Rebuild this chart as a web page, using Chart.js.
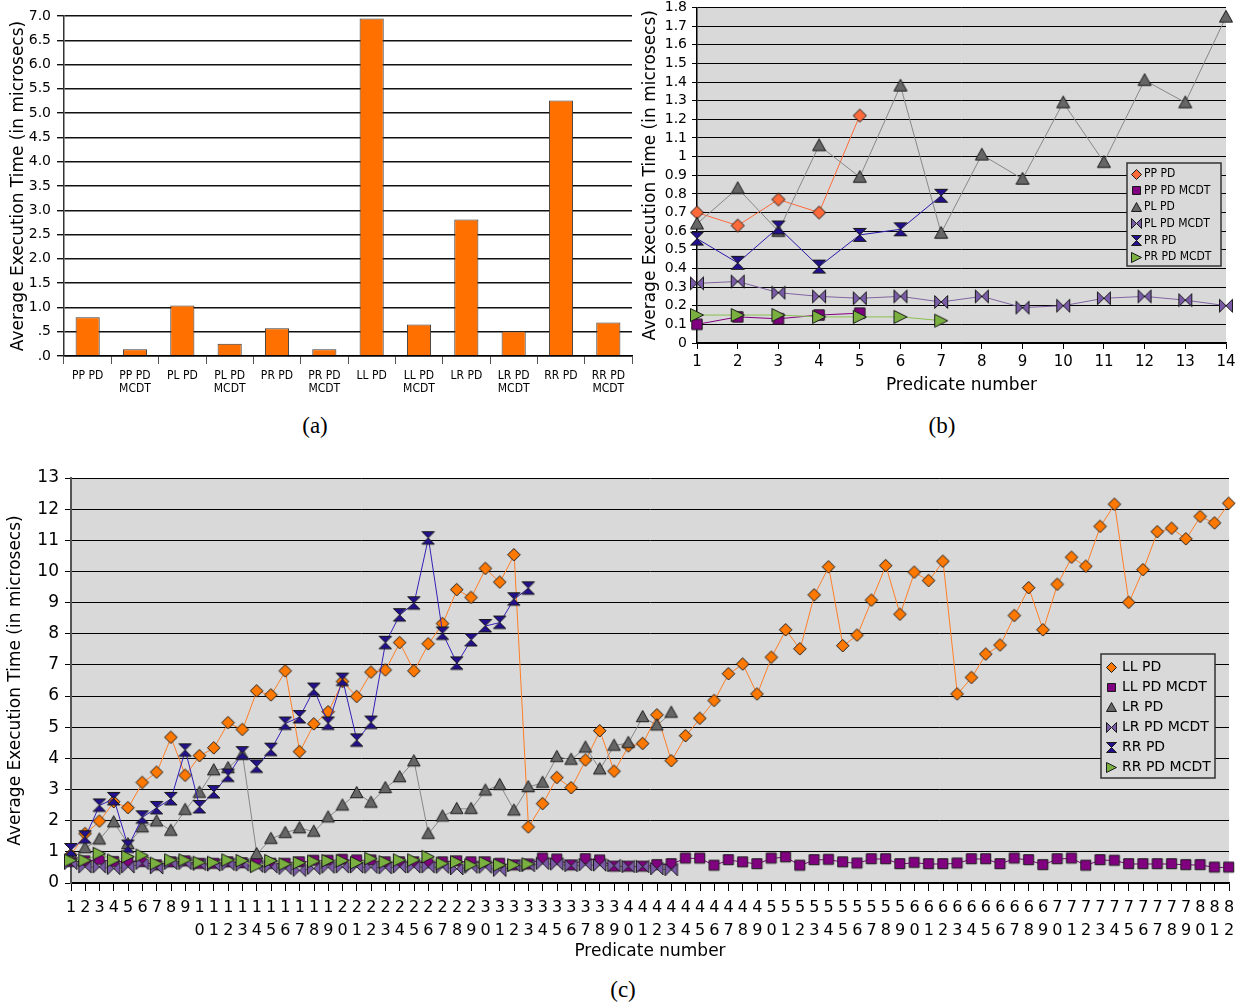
<!DOCTYPE html>
<html>
<head>
<meta charset="utf-8">
<script src="https://cdn.jsdelivr.net/npm/chart.js@4.4.0/dist/chart.umd.min.js"></script>
<style>
  body { margin: 0; background: #fff; }
  #wrap { position: relative; width: 1247px; height: 1008px; overflow: hidden; }
  canvas { position: absolute; }
  .cap { position: absolute; font-family: 'Liberation Serif', serif; font-size: 23px; line-height: 1; color: #000; transform: translateX(-50%); }
</style>
</head>
<body>
<div id="wrap">
  <canvas id="chartA" width="640" height="400" style="left:0;top:0"></canvas>
  <canvas id="chartB" width="617" height="400" style="left:630px;top:0"></canvas>
  <canvas id="chartC" width="1247" height="526" style="left:0;top:440px"></canvas>
  <div class="cap" style="left:315px;top:414px">(a)</div>
  <div class="cap" style="left:942px;top:414px">(b)</div>
  <div class="cap" style="left:623px;top:978px">(c)</div>
</div>
<script>
// ---- data: (a) average time per predicate combination
const catA = [['PP PD'], ['PP PD', 'MCDT'], ['PL PD'], ['PL PD', 'MCDT'], ['PR PD'], ['PR PD', 'MCDT'],
              ['LL PD'], ['LL PD', 'MCDT'], ['LR PD'], ['LR PD', 'MCDT'], ['RR PD'], ['RR PD', 'MCDT']];
const avgA = [0.80, 0.14, 1.04, 0.25, 0.57, 0.14, 6.95, 0.65, 2.81, 0.51, 5.26, 0.69];
const yTicksA = ['.0', '.5', '1.0', '1.5', '2.0', '2.5', '3.0', '3.5', '4.0', '4.5', '5.0', '5.5', '6.0', '6.5', '7.0'];

// ---- data: (b) point / line predicates
const predB = ['1', '2', '3', '4', '5', '6', '7', '8', '9', '10', '11', '12', '13', '14'];
const yTicksB = ['0', '0.1', '0.2', '0.3', '0.4', '0.5', '0.6', '0.7', '0.8', '0.9', '1', '1.1', '1.2', '1.3', '1.4', '1.5', '1.6', '1.7', '1.8'];
const ppPD = [0.70, 0.63, 0.77, 0.70, 1.22];
const ppPDMcdt = [0.10, 0.14, 0.13, 0.15, 0.16];
const plPD = [0.64, 0.83, 0.60, 1.06, 0.89, 1.38, 0.59, 1.01, 0.88, 1.29, 0.97, 1.41, 1.29, 1.75];
const plPDMcdt = [0.32, 0.33, 0.27, 0.25, 0.24, 0.25, 0.22, 0.25, 0.19, 0.20, 0.24, 0.25, 0.23, 0.20];
const prPD = [0.56, 0.43, 0.62, 0.41, 0.58, 0.61, 0.79];
const prPDMcdt = [0.15, 0.15, 0.15, 0.14, 0.14, 0.14, 0.12];

// ---- data: (c) line / region predicates
const predC = Array.from({ length: 82 }, (_, i) => i + 1);
const llPD = [0.90, 1.58, 1.98, 2.60, 2.41, 3.22, 3.55, 4.67, 3.45, 4.08,
              4.33, 5.14, 4.92, 6.16, 6.03, 6.80, 4.21, 5.10, 5.49, 6.46,
              5.98, 6.76, 6.83, 7.71, 6.80, 7.67, 8.32, 9.41, 9.16, 10.09,
              9.65, 10.53, 1.79, 2.54, 3.38, 3.05, 3.94, 4.88, 3.58, 4.39,
              4.47, 5.39, 3.92, 4.72, 5.28, 5.85, 6.71, 7.02, 6.06, 7.24,
              8.12, 7.51, 9.24, 10.14, 7.61, 7.95, 9.07, 10.18, 8.62, 9.97,
              9.70, 10.32, 6.06, 6.59, 7.34, 7.63, 8.58, 9.47, 8.12, 9.58,
              10.45, 10.16, 11.44, 12.15, 9.00, 10.05, 11.27, 11.38, 11.04, 11.76,
              11.55, 12.18];
const llPDMcdt = [0.68, 0.70, 0.75, 0.68, 0.70, 0.68, 0.57, 0.67, 0.70, 0.62,
                  0.62, 0.67, 0.64, 0.64, 0.62, 0.62, 0.67, 0.72, 0.72, 0.75,
                  0.73, 0.73, 0.67, 0.67, 0.67, 0.64, 0.67, 0.70, 0.67, 0.67,
                  0.62, 0.57, 0.60, 0.79, 0.76, 0.57, 0.77, 0.73, 0.53, 0.53,
                  0.53, 0.58, 0.61, 0.79, 0.79, 0.56, 0.74, 0.67, 0.61, 0.79,
                  0.83, 0.56, 0.74, 0.75, 0.67, 0.63, 0.77, 0.77, 0.61, 0.65,
                  0.61, 0.61, 0.63, 0.77, 0.77, 0.61, 0.79, 0.74, 0.58, 0.77,
                  0.79, 0.56, 0.74, 0.72, 0.61, 0.61, 0.61, 0.61, 0.58, 0.58,
                  0.50, 0.50];
const lrPD = [0.75, 1.12, 1.40, 1.95, 1.25, 1.79, 1.98, 1.68, 2.35, 2.90,
              3.62, 3.69, 4.12, 0.93, 1.42, 1.61, 1.76, 1.65, 2.11, 2.49,
              2.89, 2.58, 3.05, 3.40, 3.91, 1.58, 2.14, 2.38, 2.38, 2.97,
              3.15, 2.33, 3.08, 3.22, 4.05, 3.96, 4.35, 3.65, 4.41, 4.50,
              5.33, 5.06, 5.47];
const lrPDMcdt = [0.62, 0.51, 0.51, 0.46, 0.51, 0.62, 0.48, 0.62, 0.62, 0.59,
                  0.57, 0.59, 0.57, 0.53, 0.51, 0.46, 0.40, 0.46, 0.50, 0.51,
                  0.51, 0.50, 0.48, 0.51, 0.51, 0.51, 0.50, 0.45, 0.50, 0.50,
                  0.40, 0.55, 0.55, 0.62, 0.60, 0.55, 0.58, 0.57, 0.55, 0.52,
                  0.52, 0.45, 0.42];
const rrPD = [1.06, 1.47, 2.49, 2.70, 1.17, 2.11, 2.41, 2.70, 4.26, 2.44,
              2.92, 3.45, 4.17, 3.74, 4.28, 5.12, 5.33, 6.21, 5.12, 6.53,
              4.58, 5.15, 7.71, 8.60, 8.98, 11.07, 8.01, 7.05, 7.80, 8.25,
              8.36, 9.11, 9.46];
const rrPDMcdt = [0.72, 0.72, 0.94, 0.72, 0.84, 0.88, 0.62, 0.73, 0.73, 0.65,
                  0.65, 0.73, 0.71, 0.53, 0.71, 0.60, 0.64, 0.69, 0.71, 0.71,
                  0.64, 0.78, 0.67, 0.73, 0.73, 0.84, 0.62, 0.67, 0.57, 0.64,
                  0.57, 0.57, 0.60];

const yTitle = 'Average Execution Time (in microsecs)';
const condensed = "'DejaVu Sans Condensed', 'DejaVu Sans'";

Chart.defaults.font.family = "'DejaVu Sans', sans-serif";
Chart.defaults.color = '#000';

// small canvases used as point markers
function makeMarker(shape, fill, size) {
  const pad = 1.5;
  const c = document.createElement('canvas');
  c.width = c.height = Math.ceil(size + pad * 2);
  const g = c.getContext('2d');
  const lo = pad, hi = pad + size, mid = pad + size / 2;
  g.beginPath();
  switch (shape) {
    case 'diamond':
      g.moveTo(mid, lo); g.lineTo(hi, mid); g.lineTo(mid, hi); g.lineTo(lo, mid); g.closePath(); break;
    case 'square': {
      const q = size * 0.1;
      g.rect(lo + q, lo + q, size - 2 * q, size - 2 * q); break;
    }
    case 'triangle':
      g.moveTo(mid, lo); g.lineTo(hi, hi - size * 0.1); g.lineTo(lo, hi - size * 0.1); g.closePath(); break;
    case 'bowtie':
      g.moveTo(lo, lo); g.lineTo(mid, mid); g.lineTo(lo, hi); g.closePath();
      g.moveTo(hi, lo); g.lineTo(mid, mid); g.lineTo(hi, hi); g.closePath(); break;
    case 'hourglass':
      g.moveTo(lo, lo); g.lineTo(hi, lo); g.lineTo(mid, mid); g.closePath();
      g.moveTo(lo, hi); g.lineTo(hi, hi); g.lineTo(mid, mid); g.closePath(); break;
    case 'play':
      g.moveTo(lo, lo); g.lineTo(hi, mid); g.lineTo(lo, hi); g.closePath(); break;
  }
  g.fillStyle = fill;
  g.fill();
  g.lineWidth = 1;
  g.strokeStyle = '#1a1a1a';
  g.stroke();
  return c;
}

function lineSet(label, data, shape, fill, line, size, order) {
  return {
    label: label,
    data: data,
    borderColor: line,
    borderWidth: 1,
    backgroundColor: fill,
    pointStyle: makeMarker(shape, fill, size),
    legendMarker: makeMarker(shape, fill, 10),
    pointRadius: 6,
    pointHoverRadius: 6,
    tension: 0,
    fill: false,
    clip: false,
    order: order
  };
}

// grey plot area
const plotBg = {
  id: 'plotBg',
  beforeDraw(chart, args, opts) {
    if (!opts.color) return;
    const { ctx, chartArea: a } = chart;
    ctx.save();
    ctx.fillStyle = opts.color;
    ctx.fillRect(a.left, a.top, a.right - a.left, a.bottom - a.top);
    ctx.restore();
  }
};

// legend box drawn where the original has it
const boxLegend = {
  id: 'boxLegend',
  afterDraw(chart, args, opts) {
    if (!opts.w) return;
    const ctx = chart.ctx;
    ctx.save();
    ctx.fillStyle = opts.fill;
    ctx.fillRect(opts.x, opts.y, opts.w, opts.h);
    ctx.strokeStyle = '#333';
    ctx.lineWidth = 1.5;
    ctx.strokeRect(opts.x, opts.y, opts.w, opts.h);
    ctx.font = opts.font;
    ctx.fillStyle = '#000';
    ctx.textBaseline = 'middle';
    chart.data.datasets.forEach((ds, i) => {
      const y = opts.y + opts.first + i * opts.step;
      const img = ds.legendMarker;
      ctx.drawImage(img, Math.round(opts.markX - img.width / 2), Math.round(y - img.height / 2));
      ctx.fillText(ds.label, opts.textX, y);
    });
    ctx.restore();
  }
};

function fixBox(w, h) {
  return function (s) {
    if (w !== null) s.width = w;
    if (h !== null) s.height = h;
    s.paddingTop = 0; s.paddingBottom = 0; s.paddingLeft = 0; s.paddingRight = 0;
  };
}

// 1. bar chart (a)
new Chart(document.getElementById('chartA'), {
  type: 'bar',
  data: {
    labels: catA,
    datasets: [{
      data: avgA,
      backgroundColor: '#ff7000',
      borderColor: '#3a3a3a',
      borderWidth: 1,
      barPercentage: 0.51,
      categoryPercentage: 1
    }]
  },
  options: {
    responsive: false,
    animation: false,
    layout: { padding: { top: 16, right: 8, left: 0, bottom: 0 } },
    plugins: { legend: { display: false }, tooltip: { enabled: false } },
    scales: {
      x: {
        grid: { offset: true, drawOnChartArea: false, tickLength: 8, color: '#555' },
        border: { color: '#000', width: 1.5 },
        ticks: { font: { size: 12, family: condensed, lineHeight: 1.1 }, padding: 5, autoSkip: false, maxRotation: 0 },
        afterFit: fixBox(null, 44)
      },
      y: {
        min: 0, max: 7,
        ticks: { stepSize: 0.5, autoSkip: false, callback: (v, i) => yTicksA[i], font: { size: 14 }, padding: 6 },
        grid: { color: '#111', lineWidth: 1.4, tickLength: 7 },
        border: { color: '#333', width: 1.5 },
        title: { display: true, text: yTitle, font: { size: 17 }, padding: { top: 8, bottom: 0 } },
        afterFit: fixBox(64, null)
      }
    }
  }
});

// 2. line chart (b)
new Chart(document.getElementById('chartB'), {
  type: 'line',
  data: {
    labels: predB,
    datasets: [
      lineSet('PP PD', ppPD, 'diamond', '#ff6a3a', '#ff6a3a', 13, 0),
      lineSet('PP PD MCDT', ppPDMcdt, 'square', '#800080', '#800080', 13, -1),
      lineSet('PL PD', plPD, 'triangle', '#666666', '#888888', 13, -2),
      lineSet('PL PD MCDT', plPDMcdt, 'bowtie', '#7a5ba8', '#8064a2', 13, -3),
      lineSet('PR PD', prPD, 'hourglass', '#22108c', '#2a1aa8', 13, -4),
      lineSet('PR PD MCDT', prPDMcdt, 'play', '#7ab040', '#8ac050', 13, -5)
    ]
  },
  options: {
    responsive: false,
    animation: false,
    layout: { padding: { top: 7.5, right: 21, left: 0, bottom: 0 } },
    plugins: {
      legend: { display: false },
      tooltip: { enabled: false },
      plotBg: { color: '#d9d9d9' },
      boxLegend: { x: 497, y: 163, w: 94, h: 103, first: 11, step: 16.6, markX: 506, textX: 514,
                   font: "12px " + condensed, fill: '#d9d9d9' }
    },
    scales: {
      x: {
        offset: false,
        grid: { drawOnChartArea: false, tickLength: 6, color: '#000' },
        border: { color: '#000', width: 1.5 },
        ticks: { font: { size: 15 }, padding: 4, autoSkip: false, maxRotation: 0 },
        title: { display: true, text: 'Predicate number', font: { size: 17 }, padding: { top: 0, bottom: 4 } },
        afterFit: fixBox(null, 57)
      },
      y: {
        min: 0, max: 1.8,
        ticks: { stepSize: 0.1, autoSkip: false, callback: (v, i) => yTicksB[i], font: { size: 14 }, padding: 5 },
        grid: { color: '#000', lineWidth: 1, tickLength: 5 },
        border: { color: '#000', width: 1.5 },
        title: { display: true, text: yTitle, font: { size: 17 }, padding: { top: 10, bottom: 0 } },
        afterFit: fixBox(67, null)
      }
    }
  },
  plugins: [plotBg, boxLegend]
});

// 3. line chart (c)
new Chart(document.getElementById('chartC'), {
  type: 'line',
  data: {
    labels: predC.map(n => String(n).split('')),
    datasets: [
      lineSet('LL PD', llPD, 'diamond', '#ff7800', '#ff7f27', 12.5, 0),
      lineSet('LL PD MCDT', llPDMcdt, 'square', '#800080', '#800080', 12.5, -1),
      lineSet('LR PD', lrPD, 'triangle', '#666666', '#888888', 12.5, -2),
      lineSet('LR PD MCDT', lrPDMcdt, 'bowtie', '#7a5ba8', '#8064a2', 12.5, -3),
      lineSet('RR PD', rrPD, 'hourglass', '#22108c', '#3320b8', 12.5, -4),
      lineSet('RR PD MCDT', rrPDMcdt, 'play', '#7ab040', '#8ac050', 12.5, -5)
    ]
  },
  options: {
    responsive: false,
    animation: false,
    layout: { padding: { top: 38, right: 18, left: 0, bottom: 0 } },
    plugins: {
      legend: { display: false },
      tooltip: { enabled: false },
      plotBg: { color: '#d9d9d9' },
      boxLegend: { x: 1101, y: 214, w: 114, h: 124, first: 13, step: 20, markX: 1111, textX: 1122,
                   font: '14px DejaVu Sans', fill: '#d9d9d9' }
    },
    scales: {
      x: {
        offset: false,
        grid: { drawOnChartArea: false, tickLength: 8, color: '#000' },
        border: { color: '#000', width: 1.5 },
        ticks: { font: { size: 16, lineHeight: 1.45 }, padding: 5, autoSkip: false, maxRotation: 0 },
        title: { display: true, text: 'Predicate number', font: { size: 17 }, padding: { top: 0, bottom: 4 } },
        afterFit: fixBox(null, 83)
      },
      y: {
        min: 0, max: 13,
        ticks: { stepSize: 1, autoSkip: false, font: { size: 17 }, padding: 6 },
        grid: { color: '#000', lineWidth: 1, tickLength: 6 },
        border: { color: '#555', width: 2 },
        title: { display: true, text: yTitle, font: { size: 17 }, padding: { top: 5, bottom: 0 } },
        afterFit: fixBox(71, null)
      }
    }
  },
  plugins: [plotBg, boxLegend]
});
</script>
</body>
</html>
